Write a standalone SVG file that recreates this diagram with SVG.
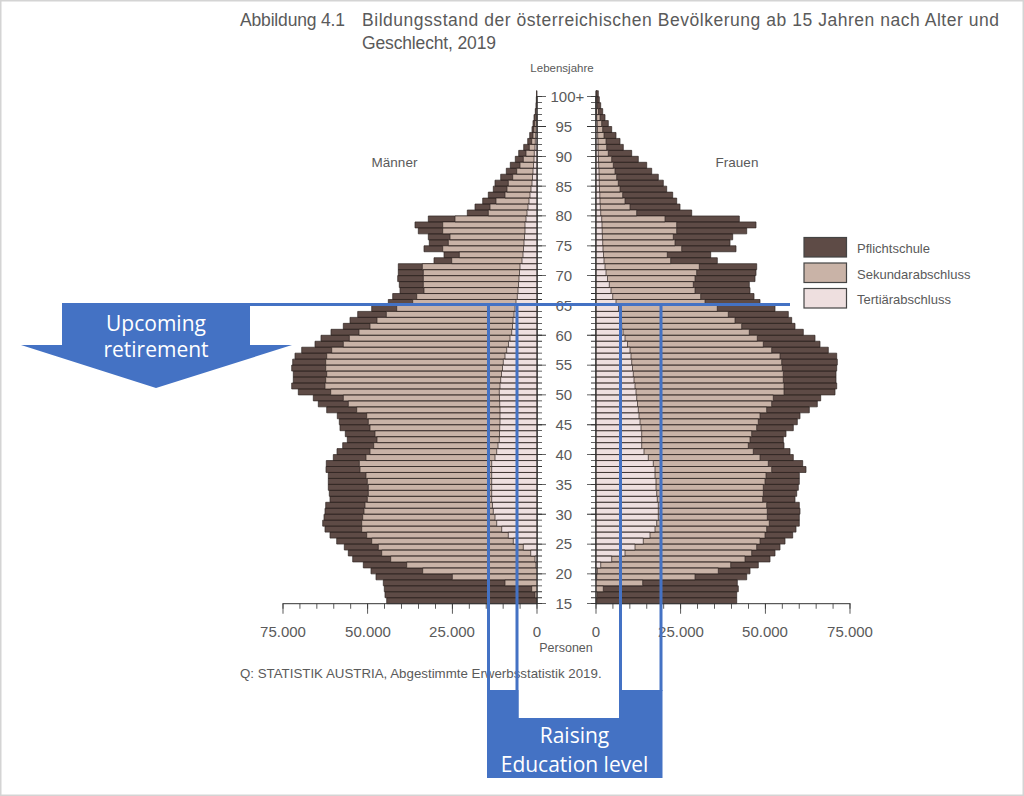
<svg xmlns="http://www.w3.org/2000/svg" width="1024" height="796" viewBox="0 0 1024 796">
<style>
.p{fill:#5e4b46}
.s{fill:#c9b3a7}
.t{fill:#eedfdf}
.bar{stroke:#2f2523;stroke-width:0.7}
.ax{stroke:#333;fill:none;stroke-width:1}
.tk{stroke:#333;fill:none}
.lbl{font-family:"Liberation Sans",Arial,sans-serif;fill:#5a5a5a}
.blue{fill:#4472c4}
.bl{stroke:#4472c4;stroke-width:3;fill:none}
.wt{font-family:"Open Sans","Liberation Sans",sans-serif;font-size:21px;fill:#ffffff;text-anchor:middle}
</style>
<rect x="0" y="0" width="1024" height="796" fill="#ffffff"/>
<rect x="0.75" y="0.75" width="1022.5" height="794.5" fill="none" stroke="#d4d4d4" stroke-width="1.5"/>

<g id="title" class="lbl" font-size="17.5">
<text x="240" y="26"><tspan textLength="105" lengthAdjust="spacing">Abbildung 4.1</tspan><tspan x="362" textLength="637" lengthAdjust="spacing">Bildungsstand der österreichischen Bevölkerung ab 15 Jahren nach Alter und</tspan></text>
<text x="362" y="49" textLength="134" lengthAdjust="spacing">Geschlecht, 2019</text>
</g>

<g id="men-bars" transform="matrix(-1 0 0 -5.965 537 693.175)">
<path class="p bar" vector-effect="non-scaling-stroke" d="M0 15h150.3v1H0zM0 16h152v1H0zM0 17h152.7v1H0zM0 18h153.7v1H0zM0 19h161v1H0zM0 20h166v1H0zM0 21h173.7v1H0zM0 22h184.3v1H0zM0 23h188.7v1H0zM0 24h192.7v1H0zM0 25h200.3v1H0zM0 26h207v1H0zM0 27h212v1H0zM0 28h214.3v1H0zM0 29h213v1H0zM0 30h212v1H0zM0 31h211.3v1H0zM0 32h207v1H0zM0 33h207.7v1H0zM0 34h208.7v1H0zM0 35h208.7v1H0zM0 36h208.7v1H0zM0 37h211v1H0zM0 38h210.7v1H0zM0 39h203.7v1H0zM0 40h200v1H0zM0 41h194.3v1H0zM0 42h189.7v1H0zM0 43h191.7v1H0zM0 44h197v1H0zM0 45h197.7v1H0zM0 46h199.7v1H0zM0 47h210.3v1H0zM0 48h218.7v1H0zM0 49h223.7v1H0zM0 50h238.7v1H0zM0 51h245.3v1H0zM0 52h243.7v1H0zM0 53h243.7v1H0zM0 54h245.3v1H0zM0 55h244.3v1H0zM0 56h242v1H0zM0 57h235.3v1H0zM0 58h222v1H0zM0 59h216v1H0zM0 60h206v1H0zM0 61h193.7v1H0zM0 62h187v1H0zM0 63h179.3v1H0zM0 64h165.3v1H0zM0 65h148.7v1H0zM0 66h144.3v1H0zM0 67h137v1H0zM0 68h137.7v1H0zM0 69h139.3v1H0zM0 70h138.7v1H0zM0 71h138.7v1H0zM0 72h103v1H0zM0 73h93v1H0zM0 74h113v1H0zM0 75h107.7v1H0zM0 76h108.7v1H0zM0 77h118.7v1H0zM0 78h122v1H0zM0 79h108.7v1H0zM0 80h69.7v1H0zM0 81h62v1H0zM0 82h54.3v1H0zM0 83h48.7v1H0zM0 84h43.7v1H0zM0 85h42v1H0zM0 86h36.3v1H0zM0 87h30.7v1H0zM0 88h26.7v1H0zM0 89h21.7v1H0zM0 90h18.3v1H0zM0 91h13.3v1H0zM0 92h9.3v1H0zM0 93h7.3v1H0zM0 94h5v1H0zM0 95h4v1H0zM0 96h3v1H0zM0 97h1.7v1H0zM0 98h1v1H0zM0 99h0.7v1H0zM0 100h0.5v1H0z"/>
<path class="s bar" vector-effect="non-scaling-stroke" d="M0 15h0.3v1H0zM0 16h2v1H0zM0 17h5.3v1H0zM0 18h32v1H0zM0 19h84.7v1H0zM0 20h114.3v1H0zM0 21h130.3v1H0zM0 22h146.3v1H0zM0 23h155.3v1H0zM0 24h158.7v1H0zM0 25h165.3v1H0zM0 26h170.3v1H0zM0 27h175.3v1H0zM0 28h175.3v1H0zM0 29h174.3v1H0zM0 30h173v1H0zM0 31h172v1H0zM0 32h169.7v1H0zM0 33h168.7v1H0zM0 34h168.7v1H0zM0 35h169.7v1H0zM0 36h171v1H0zM0 37h177v1H0zM0 38h177.7v1H0zM0 39h171v1H0zM0 40h167v1H0zM0 41h163.3v1H0zM0 42h160v1H0zM0 43h162v1H0zM0 44h167v1H0zM0 45h168.7v1H0zM0 46h170.3v1H0zM0 47h180.3v1H0zM0 48h188.7v1H0zM0 49h193.7v1H0zM0 50h206.3v1H0zM0 51h212v1H0zM0 52h211.3v1H0zM0 53h210.3v1H0zM0 54h211.3v1H0zM0 55h211.3v1H0zM0 56h210.3v1H0zM0 57h205.3v1H0zM0 58h193.7v1H0zM0 59h187.7v1H0zM0 60h178v1H0zM0 61h167v1H0zM0 62h160v1H0zM0 63h150.7v1H0zM0 64h140.3v1H0zM0 65h124.3v1H0zM0 66h120.3v1H0zM0 67h113v1H0zM0 68h113.7v1H0zM0 69h113.7v1H0zM0 70h113.7v1H0zM0 71h114.7v1H0zM0 72h85.3v1H0zM0 73h77.7v1H0zM0 74h94.3v1H0zM0 75h88.7v1H0zM0 76h87v1H0zM0 77h94.3v1H0zM0 78h94.3v1H0zM0 79h82v1H0zM0 80h48.7v1H0zM0 81h47v1H0zM0 82h41v1H0zM0 83h32v1H0zM0 84h30v1H0zM0 85h28.7v1H0zM0 86h24.3v1H0zM0 87h20.3v1H0zM0 88h17v1H0zM0 89h13.7v1H0zM0 90h11v1H0zM0 91h7.7v1H0zM0 92h5.3v1H0zM0 93h4v1H0zM0 94h3v1H0zM0 95h2.3v1H0zM0 96h1.7v1H0zM0 97h1v1H0zM0 98h0.6v1H0zM0 99h0.4v1H0z"/>
<path class="t bar" vector-effect="non-scaling-stroke" d="M0 21h1v1H0zM0 22h2v1H0zM0 23h6.3v1H0zM0 24h13.7v1H0zM0 25h23.7v1H0zM0 26h28.7v1H0zM0 27h35.3v1H0zM0 28h40.3v1H0zM0 29h42v1H0zM0 30h43.7v1H0zM0 31h44.5v1H0zM0 32h45.3v1H0zM0 33h45.3v1H0zM0 34h45.3v1H0zM0 35h45.3v1H0zM0 36h45.3v1H0zM0 37h45.3v1H0zM0 38h45.3v1H0zM0 39h42v1H0zM0 40h40.3v1H0zM0 41h39v1H0zM0 42h37.7v1H0zM0 43h37.5v1H0zM0 44h37.3v1H0zM0 45h37v1H0zM0 46h37v1H0zM0 47h37v1H0zM0 48h37.3v1H0zM0 49h37.5v1H0zM0 50h37.7v1H0zM0 51h37v1H0zM0 52h36.3v1H0zM0 53h35.5v1H0zM0 54h34.5v1H0zM0 55h33.7v1H0zM0 56h32v1H0zM0 57h30.3v1H0zM0 58h28.5v1H0zM0 59h27v1H0zM0 60h25.3v1H0zM0 61h24.5v1H0zM0 62h24v1H0zM0 63h23v1H0zM0 64h22v1H0zM0 65h21v1H0zM0 66h19.7v1H0zM0 67h19v1H0zM0 68h18.5v1H0zM0 69h18v1H0zM0 70h17.5v1H0zM0 71h17v1H0zM0 72h15v1H0zM0 73h14v1H0zM0 74h13.5v1H0zM0 75h13v1H0zM0 76h12.5v1H0zM0 77h12v1H0zM0 78h12v1H0zM0 79h11v1H0zM0 80h10v1H0zM0 81h9v1H0zM0 82h8v1H0zM0 83h7v1H0zM0 84h6v1H0zM0 85h5v1H0zM0 86h4.5v1H0zM0 87h4v1H0zM0 88h3.5v1H0zM0 89h3v1H0zM0 90h2.7v1H0zM0 91h2v1H0zM0 92h1.7v1H0zM0 93h1.3v1H0zM0 94h1v1H0zM0 95h0.7v1H0zM0 96h0.5v1H0z"/>
</g>

<g id="women-bars" transform="matrix(1 0 0 -5.965 596 693.175)">
<path class="p bar" vector-effect="non-scaling-stroke" d="M0 15h140.7v1H0zM0 16h140.7v1H0zM0 17h142.3v1H0zM0 18h141.3v1H0zM0 19h150.7v1H0zM0 20h154v1H0zM0 21h162.3v1H0zM0 22h174v1H0zM0 23h179v1H0zM0 24h184v1H0zM0 25h189v1H0zM0 26h196.7v1H0zM0 27h200v1H0zM0 28h203.3v1H0zM0 29h203.3v1H0zM0 30h204v1H0zM0 31h203.3v1H0zM0 32h199v1H0zM0 33h200.7v1H0zM0 34h202.3v1H0zM0 35h203.3v1H0zM0 36h203.3v1H0zM0 37h210v1H0zM0 38h206.7v1H0zM0 39h197.3v1H0zM0 40h194v1H0zM0 41h188v1H0zM0 42h187.3v1H0zM0 43h190v1H0zM0 44h197.3v1H0zM0 45h201.3v1H0zM0 46h204v1H0zM0 47h213.3v1H0zM0 48h221.3v1H0zM0 49h224.7v1H0zM0 50h239v1H0zM0 51h240.7v1H0zM0 52h240v1H0zM0 53h240v1H0zM0 54h240.7v1H0zM0 55h241.3v1H0zM0 56h240.7v1H0zM0 57h232.3v1H0zM0 58h224v1H0zM0 59h219v1H0zM0 60h207.3v1H0zM0 61h199v1H0zM0 62h195.7v1H0zM0 63h192.3v1H0zM0 64h179v1H0zM0 65h164v1H0zM0 66h158v1H0zM0 67h154v1H0zM0 68h153.3v1H0zM0 69h159v1H0zM0 70h160v1H0zM0 71h160.7v1H0zM0 72h121.3v1H0zM0 73h114.7v1H0zM0 74h140v1H0zM0 75h134v1H0zM0 76h136.7v1H0zM0 77h150.7v1H0zM0 78h160v1H0zM0 79h143.3v1H0zM0 80h95.7v1H0zM0 81h84v1H0zM0 82h80.7v1H0zM0 83h76.7v1H0zM0 84h70.7v1H0zM0 85h67.3v1H0zM0 86h62.3v1H0zM0 87h55.7v1H0zM0 88h50.7v1H0zM0 89h42.3v1H0zM0 90h35.7v1H0zM0 91h27.3v1H0zM0 92h24v1H0zM0 93h20v1H0zM0 94h15.7v1H0zM0 95h12.3v1H0zM0 96h9v1H0zM0 97h6.7v1H0zM0 98h4.7v1H0zM0 99h3.3v1H0zM0 100h2.3v1H0z"/>
<path class="s bar" vector-effect="non-scaling-stroke" d="M0 15h0.7v1H0zM0 16h1.3v1H0zM0 17h7.3v1H0zM0 18h46.7v1H0zM0 19h99v1H0zM0 20h122.3v1H0zM0 21h134.7v1H0zM0 22h149v1H0zM0 23h155.7v1H0zM0 24h160.7v1H0zM0 25h164v1H0zM0 26h169v1H0zM0 27h170.7v1H0zM0 28h173.3v1H0zM0 29h171.3v1H0zM0 30h171.3v1H0zM0 31h170.7v1H0zM0 32h166.7v1H0zM0 33h167.3v1H0zM0 34h167.3v1H0zM0 35h169v1H0zM0 36h170v1H0zM0 37h175.7v1H0zM0 38h172.3v1H0zM0 39h164v1H0zM0 40h157.3v1H0zM0 41h152.3v1H0zM0 42h154v1H0zM0 43h155.7v1H0zM0 44h160.7v1H0zM0 45h162.3v1H0zM0 46h164v1H0zM0 47h170.7v1H0zM0 48h175.7v1H0zM0 49h177.3v1H0zM0 50h188v1H0zM0 51h188v1H0zM0 52h187.3v1H0zM0 53h187.3v1H0zM0 54h186.3v1H0zM0 55h185.7v1H0zM0 56h184v1H0zM0 57h175.7v1H0zM0 58h167.3v1H0zM0 59h161.3v1H0zM0 60h153.3v1H0zM0 61h145.7v1H0zM0 62h139v1H0zM0 63h132.3v1H0zM0 64h121.3v1H0zM0 65h109v1H0zM0 66h104.7v1H0zM0 67h99v1H0zM0 68h97.3v1H0zM0 69h99v1H0zM0 70h100.7v1H0zM0 71h103.3v1H0zM0 72h74.7v1H0zM0 73h71.3v1H0zM0 74h85.7v1H0zM0 75h79v1H0zM0 76h77.3v1H0zM0 77h80.7v1H0zM0 78h80.7v1H0zM0 79h69v1H0zM0 80h40.7v1H0zM0 81h34v1H0zM0 82h29v1H0zM0 83h26.7v1H0zM0 84h24v1H0zM0 85h22.3v1H0zM0 86h20.7v1H0zM0 87h19v1H0zM0 88h17.3v1H0zM0 89h15.7v1H0zM0 90h12.3v1H0zM0 91h10.7v1H0zM0 92h10v1H0zM0 93h8v1H0zM0 94h6.7v1H0zM0 95h5.7v1H0zM0 96h4v1H0zM0 97h2.5v1H0zM0 98h1.5v1H0zM0 99h1v1H0zM0 100h0.5v1H0z"/>
<path class="t bar" vector-effect="non-scaling-stroke" d="M0 19h0.7v1H0zM0 20h1.3v1H0zM0 21h4.7v1H0zM0 22h15.7v1H0zM0 23h29v1H0zM0 24h39v1H0zM0 25h47.3v1H0zM0 26h54v1H0zM0 27h59v1H0zM0 28h60.7v1H0zM0 29h62.3v1H0zM0 30h62.3v1H0zM0 31h62.3v1H0zM0 32h61.3v1H0zM0 33h60.7v1H0zM0 34h60v1H0zM0 35h60v1H0zM0 36h59v1H0zM0 37h59v1H0zM0 38h57.3v1H0zM0 39h52.3v1H0zM0 40h48v1H0zM0 41h45.7v1H0zM0 42h45.7v1H0zM0 43h45.7v1H0zM0 44h45v1H0zM0 45h44v1H0zM0 46h43v1H0zM0 47h42.3v1H0zM0 48h41.5v1H0zM0 49h40.7v1H0zM0 50h40v1H0zM0 51h39v1H0zM0 52h38v1H0zM0 53h37.3v1H0zM0 54h36.5v1H0zM0 55h35.7v1H0zM0 56h35v1H0zM0 57h34v1H0zM0 58h31.5v1H0zM0 59h29v1H0zM0 60h27v1H0zM0 61h25.7v1H0zM0 62h25v1H0zM0 63h24v1H0zM0 64h22.5v1H0zM0 65h20v1H0zM0 66h16.7v1H0zM0 67h15v1H0zM0 68h13.3v1H0zM0 69h11.5v1H0zM0 70h10v1H0zM0 71h9v1H0zM0 72h8v1H0zM0 73h7.5v1H0zM0 74h7v1H0zM0 75h6.7v1H0zM0 76h6.4v1H0zM0 77h6.2v1H0zM0 78h6v1H0zM0 79h5.7v1H0zM0 80h4.7v1H0zM0 81h4.3v1H0zM0 82h4v1H0zM0 83h3.8v1H0zM0 84h3.5v1H0zM0 85h3.3v1H0zM0 86h3.2v1H0zM0 87h3v1H0zM0 88h2.7v1H0zM0 89h2.5v1H0zM0 90h2.3v1H0zM0 91h2v1H0zM0 92h2v1H0zM0 93h1.7v1H0zM0 94h1.5v1H0zM0 95h1.3v1H0zM0 96h0.7v1H0zM0 97h0.5v1H0zM0 98h0.3v1H0zM0 99h0.2v1H0z"/>
</g>

<g id="axes">
<path class="ax" d="M537 603.7V96M596 603.7V96M282.5 603.7H537.5M595.5 603.7H850.5"/>
<path class="tk" stroke-width="5" stroke-dasharray="0.8 5.165" d="M539.5 604.1V95M593.5 604.1V95"/>
<path class="tk" stroke-width="9" stroke-dasharray="0.8 29.025" d="M541.5 604.1V95M591.5 604.1V95"/>
<path class="tk" stroke-width="5" stroke-dasharray="0.8 16.133" d="M282.6 606.2H537.4M595.6 606.2H850.4"/>
<path class="tk" stroke-width="10" stroke-dasharray="0.8 83.867" d="M282.6 608.7H537.4M595.6 608.7H850.4"/>
</g>

<g id="axis-labels" class="lbl" font-size="15">
<text x="550.5" y="102">100+</text>
<text x="555.5" y="131.8">95</text>
<text x="555.5" y="161.6">90</text>
<text x="555.5" y="191.5">85</text>
<text x="555.5" y="221.3">80</text>
<text x="555.5" y="251.1">75</text>
<text x="555.5" y="280.9">70</text>
<text x="555.5" y="310.8">65</text>
<text x="555.5" y="340.6">60</text>
<text x="555.5" y="370.4">55</text>
<text x="555.5" y="400.2">50</text>
<text x="555.5" y="430">45</text>
<text x="555.5" y="459.9">40</text>
<text x="555.5" y="489.7">35</text>
<text x="555.5" y="519.5">30</text>
<text x="555.5" y="549.4">25</text>
<text x="555.5" y="579.2">20</text>
<text x="555.5" y="609">15</text>
<g text-anchor="middle">
<text x="283" y="637">75.000</text>
<text x="368" y="637">50.000</text>
<text x="452" y="637">25.000</text>
<text x="537" y="637">0</text>
<text x="596" y="637">0</text>
<text x="681" y="637">25.000</text>
<text x="765" y="637">50.000</text>
<text x="850" y="637">75.000</text>
<text x="566" y="652" font-size="12.5">Personen</text>
<text x="562" y="72" font-size="11.5">Lebensjahre</text>
<text x="394.5" y="167" font-size="13.5">Männer</text>
<text x="737" y="167" font-size="13.5">Frauen</text>
</g>
<text x="240" y="678" font-size="13.3">Q: STATISTIK AUSTRIA, Abgestimmte Erwerbsstatistik 2019.</text>
</g>

<g id="legend">
<rect class="p" x="804" y="237.5" width="42.5" height="19.5" stroke="#444" stroke-width="1.2"/>
<rect class="s" x="804" y="263" width="42.5" height="19.5" stroke="#444" stroke-width="1.2"/>
<rect class="t" x="804" y="288.5" width="42.5" height="19.5" stroke="#444" stroke-width="1.2"/>
<g class="lbl" font-size="13">
<text x="857" y="253">Pflichtschule</text>
<text x="857" y="278.5">Sekundarabschluss</text>
<text x="857" y="303.5">Tertiärabschluss</text>
</g>
</g>

<g id="connectors">
<path class="bl" d="M248 304.5H790"/>
<path class="bl" d="M488.5 304.5V691M517 304.5V718M620.5 304.5V718M661 304.5V691"/>
</g>

<g id="retirement-arrow">
<polygon class="blue" points="62,303 250,303 250,345 292,345 156,388 21,345 62,345"/>
<text class="wt" x="156" y="330.5">Upcoming</text>
<text class="wt" x="156" y="356.5">retirement</text>
</g>

<g id="education-box">
<path class="blue" d="M487 690H518.5V718H619V690H662.5V778H487Z"/>
<text class="wt" x="574.5" y="743">Raising</text>
<text class="wt" x="574.5" y="772">Education level</text>
</g>
</svg>
